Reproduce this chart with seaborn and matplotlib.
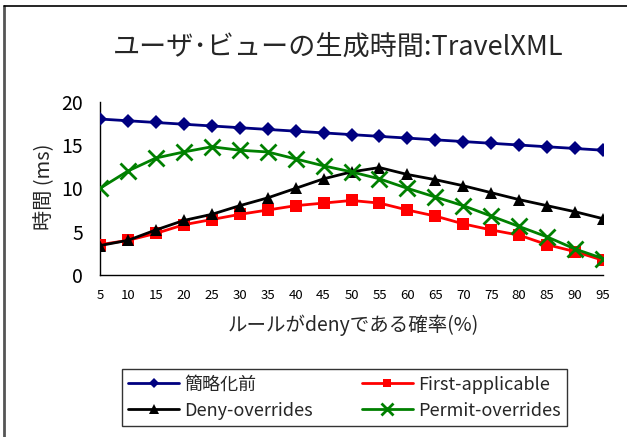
import matplotlib
matplotlib.use("Agg")
import matplotlib.pyplot as plt
from matplotlib.lines import Line2D
import seaborn as sns
import pandas as pd

sns.set_theme(style="white")
plt.rcParams["font.family"] = ["Noto Sans CJK JP", "DejaVu Sans"]

# deny probability (%)
deny_rate = [5, 10, 15, 20, 25, 30, 35, 40, 45, 50, 55, 60, 65, 70, 75, 80, 85, 90, 95]

# view generation time (ms)
before_simplify = [18.0, 17.8, 17.6, 17.4, 17.2, 17.0, 16.8, 16.6, 16.4, 16.2,
                   16.0, 15.8, 15.6, 15.4, 15.2, 15.0, 14.8, 14.6, 14.4]
first_applicable = [3.5, 4.0, 4.8, 5.8, 6.4, 7.0, 7.5, 8.0, 8.3, 8.6,
                    8.3, 7.5, 6.8, 5.9, 5.2, 4.6, 3.5, 2.7, 1.7]
deny_overrides = [3.4, 4.0, 5.2, 6.3, 7.0, 8.0, 8.9, 10.0, 11.1, 11.9,
                  12.4, 11.6, 11.0, 10.3, 9.5, 8.7, 8.0, 7.3, 6.5]
permit_overrides = [10.0, 12.0, 13.5, 14.2, 14.8, 14.4, 14.2, 13.4, 12.6, 11.9,
                    11.1, 10.0, 9.0, 8.0, 6.8, 5.6, 4.4, 3.0, 1.9]

series_names = ["簡略化前", "First-applicable", "Deny-overrides", "Permit-overrides"]
series_values = [before_simplify, first_applicable, deny_overrides, permit_overrides]

styles = {
    "簡略化前": dict(color="#000080", marker="D", markersize=7, mew=0),
    "First-applicable": dict(color="#FF0000", marker="s", markersize=8, mew=0),
    "Deny-overrides": dict(color="#000000", marker="^", markersize=9, mew=0),
    "Permit-overrides": dict(color="#008000", marker="x", markersize=11, mew=2),
}

frames = [pd.DataFrame({"rate": deny_rate, "time": vals, "series": name})
          for name, vals in zip(series_names, series_values)]
df = pd.concat(frames, ignore_index=True)

fig = plt.figure(figsize=(6.27, 4.37), dpi=100)
ax = fig.add_axes([100 / 627, 1 - 275 / 437, 503 / 627, 173.3 / 437])

handles = {}
for name in series_names:
    st = styles[name]
    sub = df[df["series"] == name]
    sns.lineplot(data=sub, x="rate", y="time", ax=ax, color=st["color"],
                 marker=st["marker"], markersize=st["markersize"],
                 markeredgewidth=st["mew"], markeredgecolor=st["color"],
                 linewidth=2, legend=False, zorder=3)
    handles[name] = Line2D([], [], color=st["color"], marker=st["marker"],
                           markersize=st["markersize"] * 0.8,
                           markeredgewidth=st["mew"], markeredgecolor=st["color"],
                           linewidth=2)

ax.set_xlim(5, 95)
ax.set_ylim(0, 20)
ax.set_xticks(deny_rate)
ax.set_xticklabels([str(v) for v in deny_rate], fontsize=9.5)
ax.set_yticks([0, 5, 10, 15, 20])
ax.set_yticklabels(["0", "5", "10", "15", "20"], fontsize=14)
ax.tick_params(axis="both", direction="in", length=4, width=1, colors="black")
ax.tick_params(axis="x", pad=10)
ax.tick_params(axis="y", pad=12)
for side in ["top", "right"]:
    ax.spines[side].set_visible(False)
for side in ["left", "bottom"]:
    ax.spines[side].set_color("black")
    ax.spines[side].set_linewidth(1)
ax.set_xlabel("")
ax.set_ylabel("")
ax.grid(False)

fig.text(338 / 627, 1 - 47 / 437, "ユーザ･ビューの生成時間:TravelXML",
         ha="center", va="center", fontsize=19.5)
fig.text(353 / 627, 1 - 325 / 437, "ルールがdenyである確率(%)",
         ha="center", va="center", fontsize=14)
fig.text(45 / 627, 1 - 187 / 437, "時間 (ms)", ha="center", va="center",
         rotation=90, fontsize=14.5)

order = ["簡略化前", "Deny-overrides", "First-applicable", "Permit-overrides"]
leg = fig.legend([handles[n] for n in order], order, ncol=2,
                 loc="lower left",
                 bbox_to_anchor=(122 / 627, 1 - 426 / 437, 445 / 627, 63 / 437),
                 mode="expand", fontsize=13, frameon=True, fancybox=False,
                 handlelength=2.8, handletextpad=0.3, borderpad=0.35,
                 labelspacing=0.45, columnspacing=1.0, borderaxespad=0)
leg.get_frame().set_edgecolor("black")
leg.get_frame().set_linewidth(1)

# outer chart frame (left and top edges)
fig.add_artist(Line2D([4 / 627, 4 / 627], [0, 1 - 6 / 437], transform=fig.transFigure,
                      color="#555555", linewidth=2))
fig.add_artist(Line2D([4 / 627, 1], [1 - 6 / 437, 1 - 6 / 437], transform=fig.transFigure,
                      color="black", linewidth=1.2))

fig.savefig("out.png", dpi=100)
